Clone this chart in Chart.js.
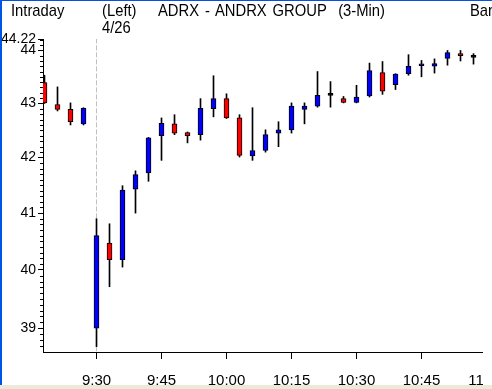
<!DOCTYPE html>
<html>
<head>
<meta charset="utf-8">
<script src="https://cdn.jsdelivr.net/npm/chart.js@4.4.0/dist/chart.umd.min.js"></script>
<style>
  html, body { margin: 0; padding: 0; background: #fff; overflow: hidden; }
  #wrap { position: absolute; left: 0; top: 0; width: 483px; height: 389px; overflow: hidden; }
  .txt { position: absolute; font-family: "Liberation Sans", Arial, sans-serif; font-size: 17px; line-height: 17px; color: #000; white-space: pre; transform: scaleX(0.87); transform-origin: 0 0; }
  #frameTop { position: absolute; left: 0; top: 0; width: 492px; height: 1px; background: #0054e3; }
  #frameLeft { position: absolute; left: 0; top: 0; width: 2px; height: 385px; background: #0054e3; }
  #strip { position: absolute; left: 0; top: 385px; width: 492px; height: 4px; background: #ece9d8; }
</style>
</head>
<body>
<div id="wrap"><canvas id="chart1" width="540" height="389"></canvas></div>
<div class="txt" style="left:11px; top:2px;">Intraday</div>
<div class="txt" style="left:102px; top:2px;">(Left)</div>
<div class="txt" style="left:102px; top:19px;">4/26</div>
<div class="txt" style="left:158px; top:2px; word-spacing:2px;">ADRX - ANDRX GROUP  (3-Min)</div>
<div class="txt" style="left:470px; top:2px;">Bar</div>
<div id="frameTop"></div>
<div id="frameLeft"></div>
<div id="strip"></div>
<script>
// 3-min bars, last four of 4/25 then 4/26 from the open
let times = ['15:48', '15:51', '15:54', '15:57',
  '9:30', '9:33', '9:36', '9:39', '9:42', '9:45', '9:48', '9:51', '9:54', '9:57',
  '10:00', '10:03', '10:06', '10:09', '10:12', '10:15', '10:18', '10:21', '10:24', '10:27',
  '10:30', '10:33', '10:36', '10:39', '10:42', '10:45', '10:48', '10:51', '10:54', '10:57'];
let open = [43.39, 42.98, 42.89, 42.62,
  39.00, 40.47, 40.18, 41.43, 41.72, 42.40, 42.62, 42.46, 42.42, 42.90,
  43.09, 42.73, 42.03, 42.13, 42.45, 42.51, 42.89, 42.95, 43.15, 43.09,
  43.02, 43.14, 43.58, 43.35, 43.56, 43.71, 43.70, 43.85, 43.94, 43.87];
let high = [43.53, 43.31, 43.01, 42.92,
  40.90, 40.81, 41.49, 41.76, 42.37, 42.73, 42.79, 42.47, 43.09, 43.52,
  43.18, 42.79, 42.92, 42.51, 42.66, 43.01, 43.01, 43.60, 43.41, 43.13,
  43.34, 43.76, 43.79, 43.56, 43.92, 43.81, 43.84, 44.00, 44.00, 43.94];
let low = [43.00, 42.86, 42.60, 42.60,
  38.69, 39.71, 40.05, 41.00, 41.57, 41.95, 42.42, 42.27, 42.32, 42.75,
  42.72, 42.01, 41.95, 42.10, 42.20, 42.45, 42.62, 42.93, 42.93, 43.01,
  43.01, 43.12, 43.17, 43.26, 43.53, 43.50, 43.57, 43.72, 43.80, 43.74];
let close = [43.01, 42.89, 42.66, 42.91,
  40.60, 40.18, 41.41, 41.69, 42.36, 42.63, 42.45, 42.40, 42.91, 43.09,
  42.73, 42.04, 42.13, 42.42, 42.51, 42.95, 42.95, 43.15, 43.15, 43.02,
  43.12, 43.62, 43.23, 43.55, 43.70, 43.72, 43.75, 43.96, 43.90, 43.87];

let xTickLabels = ['9:30', '9:45', '10:00', '10:15', '10:30', '10:45', '11:00'];
let yTickValues = [39, 40, 41, 42, 43, 44, 44.22];
let yMin = 38.61;
let yMax = 44.22;

let openIdx = times.indexOf('9:30');
let bodies = [];
let wicks = [];
let colors = [];
for (let i = 0; i < times.length; i++) {
  let x = i - openIdx;
  bodies.push({x: x, y: [open[i], close[i]]});
  wicks.push({x: x, y: [low[i], high[i]]});
  if (close[i] > open[i]) colors.push('#0000ff');
  else if (close[i] < open[i]) colors.push('#ff0000');
  else colors.push('#000000');
}
// 11:00 is one bar past the last one shown
let xTicks = xTickLabels.map(function(t) { return times.indexOf(t) >= 0 ? times.indexOf(t) - openIdx : (times.length - openIdx); });

let minorTicks = {
  id: 'minorTicks',
  afterDraw: function(chart) {
    let s = chart.scales.y;
    let c = chart.ctx;
    c.save();
    c.strokeStyle = '#000';
    c.lineWidth = 1;
    c.beginPath();
    for (let k = Math.ceil(yMin * 10); k <= Math.floor(yMax * 10); k++) {
      if (k % 10 === 0) continue;
      let py = Math.round(s.getPixelForValue(k / 10)) + 0.5;
      c.moveTo(s.right - 3, py);
      c.lineTo(s.right, py);
    }
    c.stroke();
    c.restore();
  }
};

let chart1 = new Chart(document.getElementById('chart1'), {
  type: 'bar',
  data: {
    datasets: [{
      data: bodies,
      backgroundColor: colors,
      borderColor: '#000',
      borderWidth: 1,
      borderSkipped: false,
      barThickness: 5,
      minBarLength: 2,
      grouped: false,
      order: 0
    }, {
      data: wicks,
      backgroundColor: '#000',
      borderWidth: 0,
      barThickness: 1,
      grouped: false,
      order: 1
    }, {
      type: 'line',
      data: [{x: 0, y: yMin}, {x: 0, y: yMax}],
      borderColor: '#c0c0c0',
      borderWidth: 1,
      borderDash: [5, 2],
      pointRadius: 0,
      order: 2
    }]
  },
  options: {
    responsive: false,
    animation: false,
    layout: {padding: {top: 39, left: 0, right: 35, bottom: 0}},
    plugins: {
      legend: {display: false},
      tooltip: {enabled: false}
    },
    scales: {
      x: {
        type: 'linear',
        offset: false,
        min: -53.5 / 13,
        max: -53.5 / 13 + 462 / 13,
        afterBuildTicks: function(scale) {
          scale.ticks = xTicks.map(function(v) { return {value: v}; });
        },
        afterFit: function(scale) { scale.height = 37; },
        grid: {display: true, drawOnChartArea: false, drawTicks: true, tickLength: 7, color: '#000', offset: false},
        border: {display: true, color: '#000'},
        ticks: {
          autoSkip: false,
          maxRotation: 0,
          padding: 13,
          color: '#000',
          font: {family: '"Liberation Sans", Arial, sans-serif', size: 15},
          callback: function(v) { return xTickLabels[xTicks.indexOf(v)]; }
        }
      },
      y: {
        type: 'logarithmic',
        min: yMin,
        max: yMax,
        afterBuildTicks: function(scale) {
          scale.ticks = yTickValues.map(function(v) { return {value: v}; });
        },
        afterFit: function(scale) { scale.width = 43; },
        grid: {display: true, drawOnChartArea: false, drawTicks: true, tickLength: 5, color: '#000'},
        border: {display: true, color: '#000'},
        ticks: {
          autoSkip: false,
          padding: 2,
          color: '#000',
          font: {family: '"Liberation Sans", Arial, sans-serif', size: 14},
          callback: function(v) { return String(v); }
        }
      }
    }
  },
  plugins: [minorTicks]
});
</script>
</body>
</html>
